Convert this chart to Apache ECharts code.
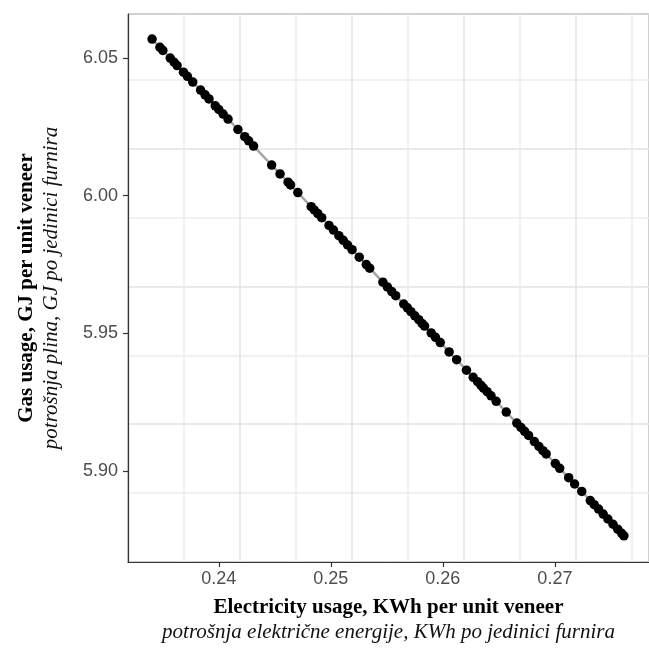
<!DOCTYPE html>
<html>
<head>
<meta charset="utf-8">
<script src="https://cdn.jsdelivr.net/npm/echarts@6/dist/echarts.min.js"></script>
<style>
  html, body { margin: 0; padding: 0; background: #fff; }
  #chart { width: 649px; height: 648px; }
</style>
</head>
<body>
<div id="chart"></div>
<script>
// electricity usage (KWh per unit veneer)
const electricity = [
  0.23405, 0.23475, 0.23501, 0.23567, 0.23602, 0.23628, 0.23685, 0.2372, 0.23768, 0.23838,
  0.23878, 0.23913, 0.23969, 0.24, 0.24039, 0.24083, 0.24171, 0.24232, 0.24267, 0.24311,
  0.24472, 0.24547, 0.24619, 0.24641, 0.24706, 0.24825, 0.24853, 0.24884, 0.24919, 0.24984,
  0.25024, 0.25072, 0.25111, 0.2515, 0.2519, 0.25254, 0.25317, 0.25347, 0.25465, 0.25505,
  0.25544, 0.25579, 0.25651, 0.25684, 0.25715, 0.2575, 0.25785, 0.25815, 0.25837, 0.25896,
  0.25934, 0.25977, 0.26056, 0.26123, 0.26211, 0.26271, 0.2631, 0.2634, 0.26362, 0.26395,
  0.2643, 0.26476, 0.26566, 0.2666, 0.26697, 0.2673, 0.26765, 0.26817, 0.26858, 0.26893,
  0.26922, 0.27004, 0.27043, 0.27123, 0.27176, 0.2724, 0.27316, 0.27351, 0.2739, 0.27431,
  0.27473, 0.27519, 0.27561, 0.27596, 0.27616
];
// gas usage (GJ per unit veneer)
const gas = [
  6.0568, 6.0538, 6.0527, 6.0499, 6.0484, 6.0472, 6.0448, 6.0433, 6.0412, 6.0383,
  6.0366, 6.0351, 6.0326, 6.0313, 6.0296, 6.0278, 6.0240, 6.0214, 6.0199, 6.0180,
  6.0111, 6.0079, 6.0049, 6.0039, 6.0011, 5.9960, 5.9948, 5.9935, 5.9920, 5.9892,
  5.9875, 5.9855, 5.9838, 5.9821, 5.9804, 5.9777, 5.9750, 5.9737, 5.9686, 5.9669,
  5.9652, 5.9637, 5.9607, 5.9593, 5.9579, 5.9564, 5.9550, 5.9536, 5.9527, 5.9502,
  5.9486, 5.9467, 5.9433, 5.9405, 5.9367, 5.9341, 5.9325, 5.9312, 5.9302, 5.9289,
  5.9274, 5.9254, 5.9215, 5.9175, 5.9159, 5.9145, 5.9130, 5.9108, 5.9090, 5.9075,
  5.9063, 5.9028, 5.9011, 5.8977, 5.8954, 5.8927, 5.8894, 5.8879, 5.8863, 5.8845,
  5.8827, 5.8808, 5.8790, 5.8775, 5.8766
];
const xTicks = [0.24, 0.25, 0.26, 0.27];
const yTicks = [5.90, 5.95, 6.00, 6.05];

const xMin = 0.2319, xMax = 0.2784;
const yMin = 5.8671, yMax = 6.0659;

const points = electricity.map((e, i) => [e, gas[i]]);

const labelFont = { fontFamily: 'Liberation Sans, Arial, sans-serif', fontSize: 18, color: '#4d4d4d' };
const titleRich = {
  b: { fontFamily: 'Liberation Serif, Times New Roman, serif', fontWeight: 'bold', fontSize: 21, color: '#000', lineHeight: 25 },
  i: { fontFamily: 'Liberation Serif, Times New Roman, serif', fontStyle: 'italic', fontSize: 21, color: '#111', lineHeight: 25 }
};
const gridColors = ['#e3e3e3', '#ececec'];

const chart = echarts.init(document.getElementById('chart'));
chart.setOption({
  animation: false,
  grid: {
    left: 128, top: 14, width: 531.5, height: 550,
    show: true, borderColor: '#333', borderWidth: 1, backgroundColor: '#fff'
  },
  xAxis: [
    {
      // grid lines only
      type: 'value', min: xMin, max: xMax, interval: 0.005,
      axisLine: { show: false }, axisTick: { show: false }, axisLabel: { show: false },
      splitLine: { show: true, lineStyle: { color: gridColors, width: 1.5 } }
    },
    {
      type: 'value', min: xMin, max: xMax, position: 'bottom',
      splitLine: { show: false },
      axisLine: { show: true, lineStyle: { color: '#333', width: 1.2 } },
      axisTick: { show: true, customValues: xTicks, length: 5, lineStyle: { color: '#333', width: 1.2 } },
      axisLabel: { customValues: xTicks, margin: 8, formatter: v => v.toFixed(2), ...labelFont },
      name: '{b|Electricity usage, KWh per unit veneer}\n{i|potrošnja električne energije, KWh po jedinici furnira}',
      nameLocation: 'middle', nameGap: 33,
      nameTextStyle: { rich: titleRich }
    }
  ],
  yAxis: [
    {
      type: 'value', min: yMin, max: yMax, interval: 0.025,
      axisLine: { show: false }, axisTick: { show: false }, axisLabel: { show: false },
      splitLine: { show: true, lineStyle: { color: gridColors, width: 1.5 } }
    },
    {
      type: 'value', min: yMin, max: yMax, position: 'left',
      splitLine: { show: false },
      axisLine: { show: true, lineStyle: { color: '#333', width: 1.2 } },
      axisTick: { show: true, customValues: yTicks, length: 5, lineStyle: { color: '#333', width: 1.2 } },
      axisLabel: { customValues: yTicks, margin: 10, formatter: v => v.toFixed(2), ...labelFont },
      name: '{b|Gas usage, GJ per unit veneer}\n{i|potrošnja plina, GJ po jedinici furnira}',
      nameLocation: 'middle', nameGap: 64,
      nameTextStyle: { rich: titleRich }
    }
  ],
  series: [
    {
      type: 'line', data: points, showSymbol: false, symbol: 'none',
      lineStyle: { color: '#a6a6a6', width: 2.5 }, z: 2
    },
    {
      type: 'scatter', data: points, symbolSize: 9.5,
      itemStyle: { color: '#000', opacity: 1 }, z: 3
    }
  ]
});
</script>
</body>
</html>
